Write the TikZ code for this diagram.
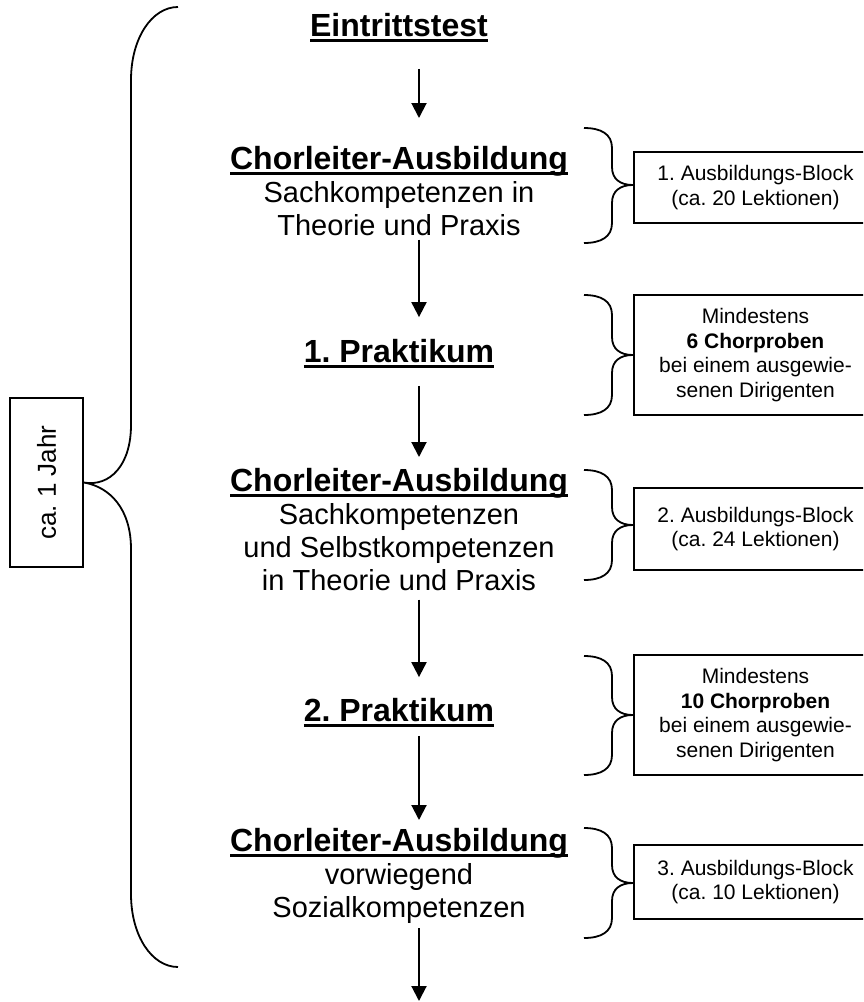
\documentclass[tikz,border=0pt]{standalone}
\usepackage{fontspec}
\setmainfont{Liberation Sans}
\frenchspacing
\usetikzlibrary{arrows.meta}
\newsavebox\ulbox
\newcommand\ulx[1]{\sbox\ulbox{#1}\usebox\ulbox\llap{\rule[-5.5pt]{\wd\ulbox}{2.5pt}}}
\newcommand\hd[1]{{\fontsize{32}{33}\selectfont\bfseries\ulx{#1}}}
\newcommand\sbrace[3]{%
  \draw[brc] (584,#1) .. controls (601,#1) and (612,#1+6) .. (612,#1+20)
    -- (612,#2-18) .. controls (612,#2-6) and (620,#2) .. (633,#2)
    .. controls (620,#2) and (612,#2+6) .. (612,#2+18)
    -- (612,#3-20) .. controls (612,#3-6) and (601,#3) .. (584,#3);}
\tikzset{
  blockt/.style={align=center, inner sep=0pt, anchor=north, font=\fontsize{29}{33}\selectfont},
  sidebox/.style={draw, line width=1.8pt, minimum width=243, inner sep=0pt, align=center,
                  font=\fontsize{21}{24.5}\selectfont},
  arr/.style={line width=2pt, -{Triangle[width=15pt,length=15pt]}},
  brc/.style={line width=1.8pt}
}
\begin{document}
\begin{tikzpicture}[x=1pt,y=-1pt]
\useasboundingbox (0,0) rectangle (863,1002);
\clip (0,0) rectangle (863,1002);
\fill[white] (0,0) rectangle (863,1002);

% main column
\node[blockt] (e)  at (399,13.1) {\hd{Eintrittstest}};
\node[blockt] (c1) at (399,145.7) {\hd{Chorleiter-Ausbildung}\\Sachkompetenzen in\\Theorie und Praxis};
\node[blockt] (p1) at (399,339.1) {\hd{1. Praktikum}};
\node[blockt] (c2) at (399,467.7) {\hd{Chorleiter-Ausbildung}\\Sachkompetenzen\\und Selbstkompetenzen\\in Theorie und Praxis};
\node[blockt] (p2) at (399,698.1) {\hd{2. Praktikum}};
\node[blockt] (c3) at (399,827.7) {\hd{Chorleiter-Ausbildung}\\vorwiegend\\Sozialkompetenzen};
\coordinate (end) at (419,1001);

% arrows
\draw[arr] ([xshift=20pt,yshift=-26.7pt]e.south) -- ([xshift=20pt,yshift=27.7pt]c1.north);
\draw[arr] ([xshift=20pt,yshift=-4pt]c1.south) -- ([xshift=20pt,yshift=22pt]p1.north);
\draw[arr] ([xshift=20pt,yshift=-17.7pt]p1.south) -- ([xshift=20pt,yshift=10.7pt]c2.north);
\draw[arr] ([xshift=20pt,yshift=-9pt]c2.south) -- ([xshift=20pt,yshift=21pt]p2.north);
\draw[arr] ([xshift=20pt,yshift=-8.7pt]p2.south) -- ([xshift=20pt,yshift=7.7pt]c3.north);
\draw[arr] ([xshift=20pt,yshift=-5pt]c3.south) -- (end);

% side boxes
\node[sidebox, minimum height=71] (b1) at (755.5,187.5) {1. Ausbildungs-Block\\(ca. 20 Lektionen)};
\node[sidebox, minimum height=120] (b2) at (755.5,355) {Mindestens\\\textbf{6 Chorproben}\\bei einem ausgewie-\\senen Dirigenten};
\node[sidebox, minimum height=82] (b3) at (755.5,529) {2. Ausbildungs-Block\\(ca. 24 Lektionen)};
\node[sidebox, minimum height=120] (b4) at (755.5,715) {Mindestens\\\textbf{10 Chorproben}\\bei einem ausgewie-\\senen Dirigenten};
\node[sidebox, minimum height=74] (b5) at (755.5,882) {3. Ausbildungs-Block\\(ca. 10 Lektionen)};

% small braces
\sbrace{128}{185}{243}
\sbrace{295}{355}{415}
\sbrace{470}{525}{580}
\sbrace{656}{715}{775}
\sbrace{828}{883}{938}

% big brace and time box
\node[draw, line width=1.8pt, rotate=90, minimum width=169, minimum height=73, inner sep=0pt,
      font=\fontsize{26}{30}\selectfont] (yr) at (46.5,482.5) {ca. 1 Jahr};
\draw[brc] (178,7) .. controls (152,7) and (131,38) .. (131,80) -- (131,425)
  .. controls (131,465) and (110,487) .. (yr.south)
  .. controls (110,487) and (131,509) .. (131,549) -- (131,894)
  .. controls (131,936) and (152,967) .. (178,967);
\end{tikzpicture}
\end{document}
